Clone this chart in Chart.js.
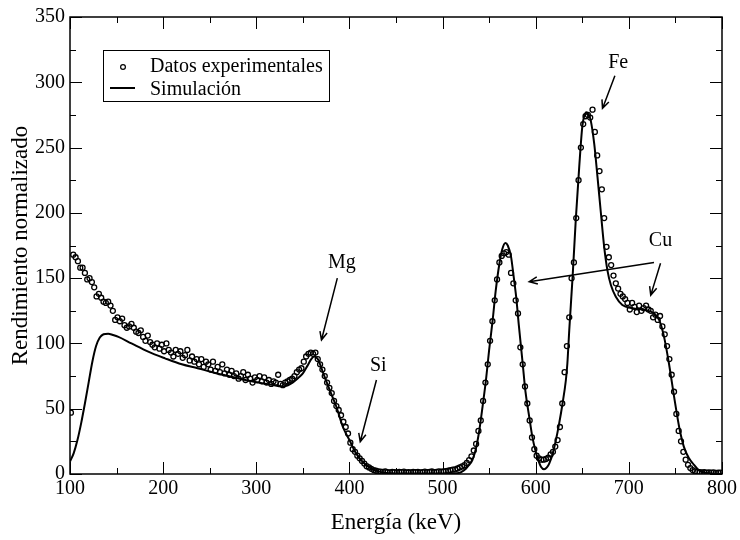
<!DOCTYPE html>
<html>
<head>
<meta charset="utf-8">
<script src="https://cdn.jsdelivr.net/npm/chart.js@4.4.1/dist/chart.umd.min.js"></script>
<style>
  body { margin: 0; background: #fff; }
  #wrap { width: 740px; height: 540px; }
</style>
</head>
<body>
<div id="wrap"><canvas id="grafico" width="740" height="540"></canvas></div>
<script>
// Datos experimentales (energía en keV, rendimiento normalizado)
const energiaExp = [
  101,103.5,106,108.5,111,113.5,116,118.5,121,123.5,
  126,128.5,131,133.5,136,138.5,141,143.5,146,148.5,
  151,153.5,156,158.5,161,163.5,166,168.5,171,173.5,
  176,178.5,181,183.5,186,188.5,191,193.5,196,198.5,
  201,203.5,206,208.5,211,213.5,216,218.5,221,223.5,
  226,228.5,231,233.5,236,238.5,241,243.5,246,248.5,
  251,253.5,256,258.5,261,263.5,266,268.5,271,273.5,
  276,278.5,281,283.5,286,288.5,291,293.5,296,298.5,
  301,303.5,306,308.5,311,313.5,316,318.5,321,323.5,
  326,328.5,331,333.5,336,338.5,341,343.5,346,348.5,
  351,353.5,356,358.5,361,363.5,366,368.5,371,373.5,
  376,378.5,381,383.5,386,388.5,391,393.5,396,398.5,
  401,403.5,406,408.5,411,413.5,416,418.5,421,423.5,
  426,428.5,431,433.5,436,438.5,441,443.5,446,448.5,
  451,453.5,456,458.5,461,463.5,466,468.5,471,473.5,
  476,478.5,481,483.5,486,488.5,491,493.5,496,498.5,
  501,503.5,506,508.5,511,513.5,516,518.5,521,523.5,
  526,528.5,531,533.5,536,538.5,541,543.5,546,548.5,
  551,553.5,556,558.5,561,563.5,566,568.5,571,573.5,
  576,578.5,581,583.5,586,588.5,591,593.5,596,598.5,
  601,603.5,606,608.5,611,613.5,616,618.5,621,623.5,
  626,628.5,631,633.5,636,638.5,641,643.5,646,648.5,
  651,653.5,656,658.5,661,663.5,666,668.5,671,673.5,
  676,678.5,681,683.5,686,688.5,691,693.5,696,698.5,
  701,703.5,706,708.5,711,713.5,716,718.5,721,723.5,
  726,728.5,731,733.5,736,738.5,741,743.5,746,748.5,
  751,753.5,756,758.5,761,763.5,766,768.5,771,773.5,
  776,778.5,781,783.5,786,788.5,791,793.5,796,798.5
];
const rendimientoExp = [
  47,168,166,163,158,158,154,149,150,147,
  143,136,138,135,132,131,132,129,125,118,
  120,117,119,114,112,113,115,112,109,108,
  110,105,102,106,101,99,97,100,96,99,
  94,100,95,93,90,95,92,94,89,91,
  95,87,90,86,88,84,88,82,86,84,
  80,86,79,82,78,84,77,80,76,79,
  75,77,73,75,78,72,76,73,70,74,
  72,75,71,74,70,72,69,71,70,76,
  69,68,70,71,72,73,75,78,80,81,
  86,90,92,93,92,93,88,84,80,75,
  70,66,62,56,52,49,45,40,36,31,
  24,19,17,14,12,10,8,6,5,4,
  3,2.5,2,1.8,1.6,1.9,1.5,1.3,1.7,1.4,
  1.2,1.6,1.4,1.8,1.3,1.5,1.2,1.6,1.4,1.7,
  1.3,1.5,1.8,1.4,1.6,1.9,1.5,1.7,2.0,1.8,
  2.0,2.2,2.5,3.0,3.3,3.6,4.2,5.0,5.8,6.8,
  8.5,10.7,13.5,18,23,33,41,56,70,84,
  102,117,133,149,162,167,169,170,168,154,
  146,133,123,97,84,67,54,41,28,19,
  14,12,11,11,11.5,12.5,15,17,21,26,
  36,54,78,98,120,150,162,196,225,250,
  268,274,275,273,279,262,244,232,218,196,
  174,166,160,152,146,142,138,136,134,131,
  126,131,128,124,129,125,127,129,126,125,
  120,122,118,121,113,107,98,88,76,63,
  46,33,25,17,11,7,4.5,3,2,1.6,
  1.4,1.2,1.5,1.1,1.3,1.0,1.2,0.9,1.1,1.0
];

// Simulación
const energiaSim = [
  100,104,108,112,116,120,124,128,132,136,141,146,152,166,184,202,220,237,255,273,288,
  300,315,328,334,339,345,350,355,359,362,366,372,379,386,393,400,407,414,423,432,
  440,460,500,515,520,525,528,532,536,539.5,543,546.6,550,553.8,557,561,564,567.5,570,573.5,
  576,579,582,586,589,593,596,600,603,605.6,609,612,614.6,618,621.7,625,628.8,632.4,634,636,
  639.6,643,646.7,650,652,654.5,657,659,662.8,666.3,670,673.5,677,680.7,686,693,704,718,727,732.5,
  737.8,743,748.6,754,759,764.6,770,775,782,790,800
];
const rendimientoSim = [
  9.5,16,26,39,54,70,86,98,104.5,107,107.5,106.5,105,100,93.7,88.6,84,81,77.6,74.5,72,
  70.3,68.5,67,68,70,73.5,77,83,88,90,88,77,64,51.5,36,26,16,9.5,4.3,1.8,
  0.8,0.4,0.3,0.6,1.5,4,6.5,10.7,20,33.7,52,72,95,118,140,161,172,177,175,166.5,
  153,135.8,113,84.8,63,44,30,17,10,5.6,3.6,5,8.2,15,26,38,54,72,84.8,110,
  151,194.6,235,266,274,277,275,271,253,227.7,199.7,174,156,144.8,135.8,129.5,127,125.6,123,118,
  105,84.8,59,36,21,12,7,3,1,0.3,0.2
];

const xTicks = [100, 200, 300, 400, 500, 600, 700, 800];
const yTicks = [0, 50, 100, 150, 200, 250, 300, 350];

// Etiquetas de los elementos y flechas (en coordenadas de los datos)
const elementos = ['Mg', 'Si', 'Fe', 'Cu'];
const elementosPos = [[392, 162], [431, 83], [688.5, 315], [734, 179]];
const flechas = [
  [387, 150, 370, 102.6],
  [429, 72, 411.6, 24.7],
  [685, 305, 671.7, 280],
  [727, 162, 593, 147.3],
  [734, 161.4, 723.5, 137]
];

const fuente = "'Liberation Serif', 'Times New Roman', serif";

function flecha(ctx, x1, y1, x2, y2) {
  ctx.beginPath();
  ctx.moveTo(x1, y1);
  ctx.lineTo(x2, y2);
  const ang = Math.atan2(y2 - y1, x2 - x1);
  const l = 9;
  ctx.moveTo(x2 - l * Math.cos(ang - 0.42), y2 - l * Math.sin(ang - 0.42));
  ctx.lineTo(x2, y2);
  ctx.lineTo(x2 - l * Math.cos(ang + 0.42), y2 - l * Math.sin(ang + 0.42));
  ctx.stroke();
}

const marcoPlugin = {
  id: 'marco',
  afterDatasetsDraw(chart) {
    const { ctx, chartArea: a, scales: { x, y } } = chart;
    ctx.save();
    ctx.strokeStyle = '#000';
    ctx.lineWidth = 1.5;
    ctx.strokeRect(a.left, a.top, a.right - a.left, a.bottom - a.top);

    // marcas hacia dentro en los cuatro lados
    ctx.lineWidth = 1;
    const menores = (v) => v.slice(1).map((t, i) => (t + v[i]) / 2);
    const marcasX = (vals, largo) => {
      vals.forEach((v) => {
        const px = Math.round(x.getPixelForValue(v)) + 0.5;
        ctx.beginPath();
        ctx.moveTo(px, a.bottom); ctx.lineTo(px, a.bottom - largo);
        ctx.moveTo(px, a.top); ctx.lineTo(px, a.top + largo);
        ctx.stroke();
      });
    };
    const marcasY = (vals, largo) => {
      vals.forEach((v) => {
        const py = Math.round(y.getPixelForValue(v)) + 0.5;
        ctx.beginPath();
        ctx.moveTo(a.left, py); ctx.lineTo(a.left + largo, py);
        ctx.moveTo(a.right, py); ctx.lineTo(a.right - largo, py);
        ctx.stroke();
      });
    };
    marcasX(xTicks, 12);
    marcasX(menores(xTicks), 6);
    marcasY(yTicks, 12);
    marcasY(menores(yTicks), 6);
    ctx.restore();
  },
  afterDraw(chart) {
    const { ctx, chartArea: a, scales: { x, y } } = chart;
    ctx.save();
    ctx.strokeStyle = '#000';
    ctx.fillStyle = '#000';

    // Leyenda
    const lx = a.left + 33, ly = a.top + 33;
    ctx.lineWidth = 1;
    ctx.strokeRect(lx + 0.5, ly + 0.5, 226, 51);
    ctx.lineWidth = 1.2;
    ctx.beginPath();
    ctx.arc(lx + 20, ly + 17, 2.4, 0, Math.PI * 2);
    ctx.stroke();
    ctx.lineWidth = 2;
    ctx.beginPath();
    ctx.moveTo(lx + 7, ly + 38);
    ctx.lineTo(lx + 32, ly + 38);
    ctx.stroke();
    ctx.font = '20px ' + fuente;
    ctx.textAlign = 'left';
    ctx.textBaseline = 'alphabetic';
    ctx.fillText('Datos experimentales', lx + 47, ly + 22);
    ctx.fillText('Simulación', lx + 47, ly + 44.5);

    // Etiquetas y flechas
    ctx.textAlign = 'center';
    ctx.textBaseline = 'middle';
    elementos.forEach((t, i) => {
      ctx.fillText(t, x.getPixelForValue(elementosPos[i][0]), y.getPixelForValue(elementosPos[i][1]));
    });
    ctx.lineWidth = 1.5;
    flechas.forEach((f) => {
      flecha(ctx, x.getPixelForValue(f[0]), y.getPixelForValue(f[1]),
        x.getPixelForValue(f[2]), y.getPixelForValue(f[3]));
    });
    ctx.restore();
  }
};

new Chart(document.getElementById('grafico'), {
  type: 'scatter',
  data: {
    datasets: [
      {
        label: 'Datos experimentales',
        data: energiaExp.map((e, i) => ({ x: e, y: rendimientoExp[i] })),
        showLine: false,
        pointRadius: 2.5,
        pointBorderWidth: 1.3,
        pointBorderColor: '#000',
        pointBackgroundColor: 'rgba(0,0,0,0)'
      },
      {
        label: 'Simulación',
        data: energiaSim.map((e, i) => ({ x: e, y: rendimientoSim[i] })),
        showLine: true,
        borderColor: '#000',
        borderWidth: 2,
        pointRadius: 0,
        cubicInterpolationMode: 'monotone',
        fill: false
      }
    ]
  },
  options: {
    responsive: false,
    animation: false,
    layout: { padding: { top: 17, right: 17, left: 0, bottom: 0 } },
    plugins: { legend: { display: false }, tooltip: { enabled: false } },
    scales: {
      x: {
        type: 'linear',
        min: 100,
        max: 800,
        afterBuildTicks: (s) => { s.ticks = xTicks.map((v) => ({ value: v })); },
        afterFit: (s) => { s.height = 66; },
        grid: { display: false, drawTicks: false },
        border: { display: false },
        ticks: { color: '#000', font: { family: fuente, size: 20 }, padding: 3, maxRotation: 0, autoSkip: false },
        title: { display: true, text: 'Energía (keV)', color: '#000', font: { family: fuente, size: 23 }, padding: { top: 0, bottom: 3 } }
      },
      y: {
        type: 'linear',
        min: 0,
        max: 350,
        afterBuildTicks: (s) => { s.ticks = yTicks.map((v) => ({ value: v })); },
        afterFit: (s) => { s.width = 70; },
        grid: { display: false, drawTicks: false },
        border: { display: false },
        ticks: { color: '#000', font: { family: fuente, size: 20 }, padding: 5, autoSkip: false },
        title: { display: true, text: 'Rendimiento normalizado', color: '#000', font: { family: fuente, size: 23 }, padding: { top: 7, bottom: 0 } }
      }
    }
  },
  plugins: [marcoPlugin]
});
</script>
</body>
</html>
